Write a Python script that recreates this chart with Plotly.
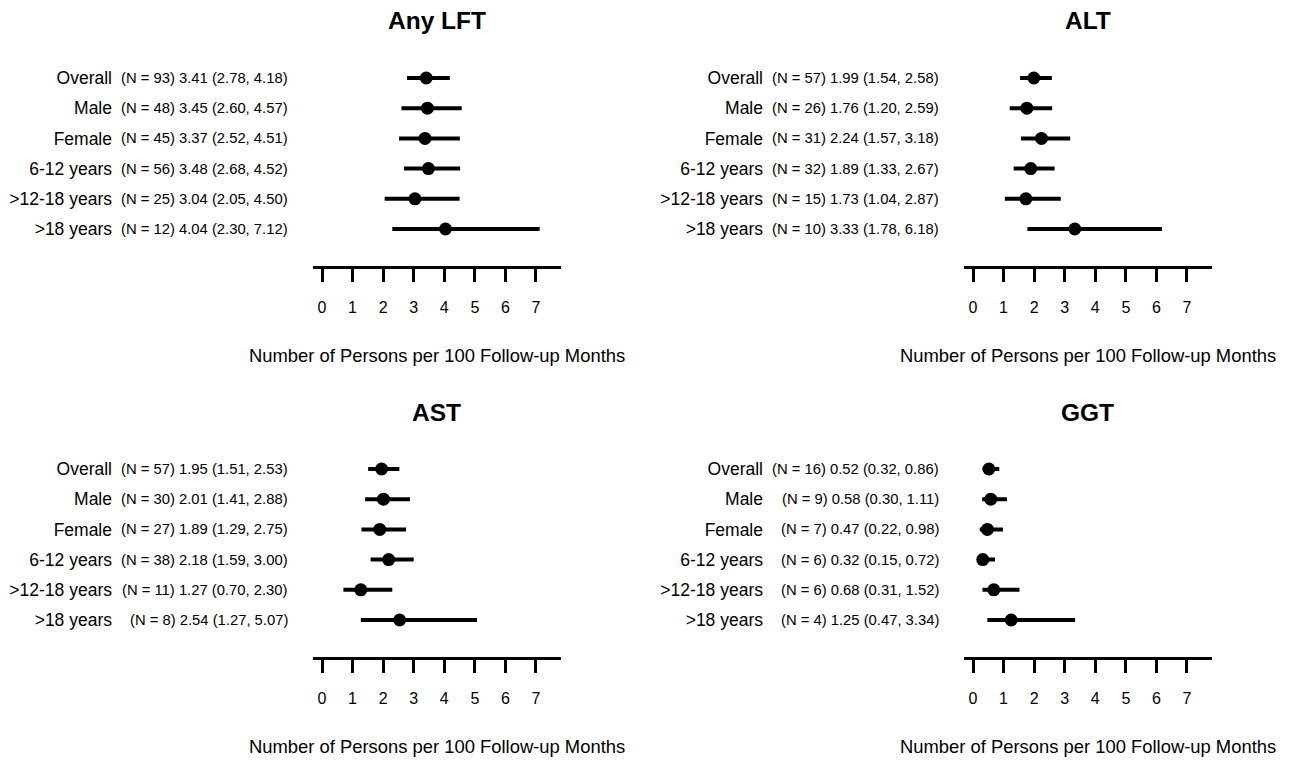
import plotly.graph_objects as go

W, H = 1298, 762

# ---- data ----
row_labels = ["Overall", "Male", "Female", "6-12 years", ">12-18 years", ">18 years"]
panel_titles = ["Any LFT", "ALT", "AST", "GGT"]
tick_values = [0, 1, 2, 3, 4, 5, 6, 7]
x_title = "Number of Persons per 100 Follow-up Months"

lft_n = [93, 48, 45, 56, 25, 12]
lft_est = [3.41, 3.45, 3.37, 3.48, 3.04, 4.04]
lft_lo = [2.78, 2.60, 2.52, 2.68, 2.05, 2.30]
lft_hi = [4.18, 4.57, 4.51, 4.52, 4.50, 7.12]

alt_n = [57, 26, 31, 32, 15, 10]
alt_est = [1.99, 1.76, 2.24, 1.89, 1.73, 3.33]
alt_lo = [1.54, 1.20, 1.57, 1.33, 1.04, 1.78]
alt_hi = [2.58, 2.59, 3.18, 2.67, 2.87, 6.18]

ast_n = [57, 30, 27, 38, 11, 8]
ast_est = [1.95, 2.01, 1.89, 2.18, 1.27, 2.54]
ast_lo = [1.51, 1.41, 1.29, 1.59, 0.70, 1.27]
ast_hi = [2.53, 2.88, 2.75, 3.00, 2.30, 5.07]

ggt_n = [16, 9, 7, 6, 6, 4]
ggt_est = [0.52, 0.58, 0.47, 0.32, 0.68, 1.25]
ggt_lo = [0.32, 0.30, 0.22, 0.15, 0.31, 0.47]
ggt_hi = [0.86, 1.11, 0.98, 0.72, 1.52, 3.34]

panels = [
    (lft_n, lft_est, lft_lo, lft_hi),
    (alt_n, alt_est, alt_lo, alt_hi),
    (ast_n, ast_est, ast_lo, ast_hi),
    (ggt_n, ggt_est, ggt_lo, ggt_hi),
]

# ---- layout helpers (pixel -> paper) ----
FONT = "Liberation Sans, Arial, sans-serif"
offsets = [(0, 0), (651, 0), (0, 391), (651, 391)]
row_pitch = 30.2
x_rng = [-0.31, 7.82]
unit = 30.57


def px(p):
    return p / W


def py(p):
    return 1 - p / H


fig = go.Figure()
annotations = []
layout_axes = {}

for k, ((n, est, lo, hi), title, (dx, dy)) in enumerate(zip(panels, panel_titles, offsets)):
    idx = "" if k == 0 else str(k + 1)
    xa, ya = "x" + idx, "y" + idx
    ypos = list(range(len(row_labels)))
    fig.add_trace(go.Scatter(
        x=est, y=ypos, xaxis=xa, yaxis=ya, mode="markers",
        marker=dict(size=13, color="black", line=dict(width=0)),
        error_x=dict(type="data", symmetric=False,
                     array=[h - e for h, e in zip(hi, est)],
                     arrayminus=[e - l for e, l in zip(est, lo)],
                     color="black", thickness=4, width=0),
        showlegend=False, hoverinfo="skip",
    ))

    zero_px = 322 + dx
    x0 = zero_px + x_rng[0] * unit
    x1 = zero_px + x_rng[1] * unit
    top_px, bot_px = 63 + dy, 266 + dy
    first_row = 78 + dy
    y_rng = [(bot_px - first_row) / row_pitch, -(first_row - top_px) / row_pitch]

    layout_axes["xaxis" + idx] = dict(
        domain=[px(x0), px(x1)], range=x_rng, anchor=ya,
        showline=True, linecolor="black", linewidth=3,
        ticks="outside", ticklen=13, tickwidth=2.5, tickcolor="black",
        tickvals=tick_values, ticktext=[str(t) for t in tick_values],
        tickfont=dict(family=FONT, size=16, color="black"),
        ticklabelstandoff=12,
        showgrid=False, zeroline=False, fixedrange=True,
    )
    layout_axes["yaxis" + idx] = dict(
        domain=[py(bot_px), py(top_px)], range=y_rng,
        anchor="free", position=px(112 + dx),
        tickvals=ypos, ticktext=row_labels, ticks="",
        tickfont=dict(family=FONT, size=17.5, color="black"),
        showline=False, showgrid=False, zeroline=False, fixedrange=True,
    )

    for i in ypos:
        annotations.append(dict(
            x=px(290 + dx), xref="paper", xanchor="right",
            y=i, yref=ya, yanchor="middle",
            text=f"(N = {n[i]}) {est[i]:.2f} ({lo[i]:.2f}, {hi[i]:.2f})",
            showarrow=False, font=dict(family=FONT, size=14.8, color="black"),
        ))

    cx = (x0 + x1) / 2
    annotations.append(dict(
        x=px(cx), y=py(21 + dy), xref="paper", yref="paper",
        xanchor="center", yanchor="middle", text=f"<b>{title}</b>",
        showarrow=False, font=dict(family=FONT, size=24.5, color="black"),
    ))
    annotations.append(dict(
        x=px(cx), y=py(355 + dy), xref="paper", yref="paper",
        xanchor="center", yanchor="middle", text=x_title,
        showarrow=False, font=dict(family=FONT, size=18.4, color="black"),
    ))

fig.update_layout(
    width=W, height=H,
    margin=dict(l=0, r=0, t=0, b=0),
    paper_bgcolor="white", plot_bgcolor="white",
    font=dict(family=FONT, color="black"),
    annotations=annotations,
    **layout_axes,
)

fig.write_html(
    "out.html",
    config={"displayModeBar": False},
    post_script="document.body.style.margin='0';document.body.style.overflow='hidden';",
)
